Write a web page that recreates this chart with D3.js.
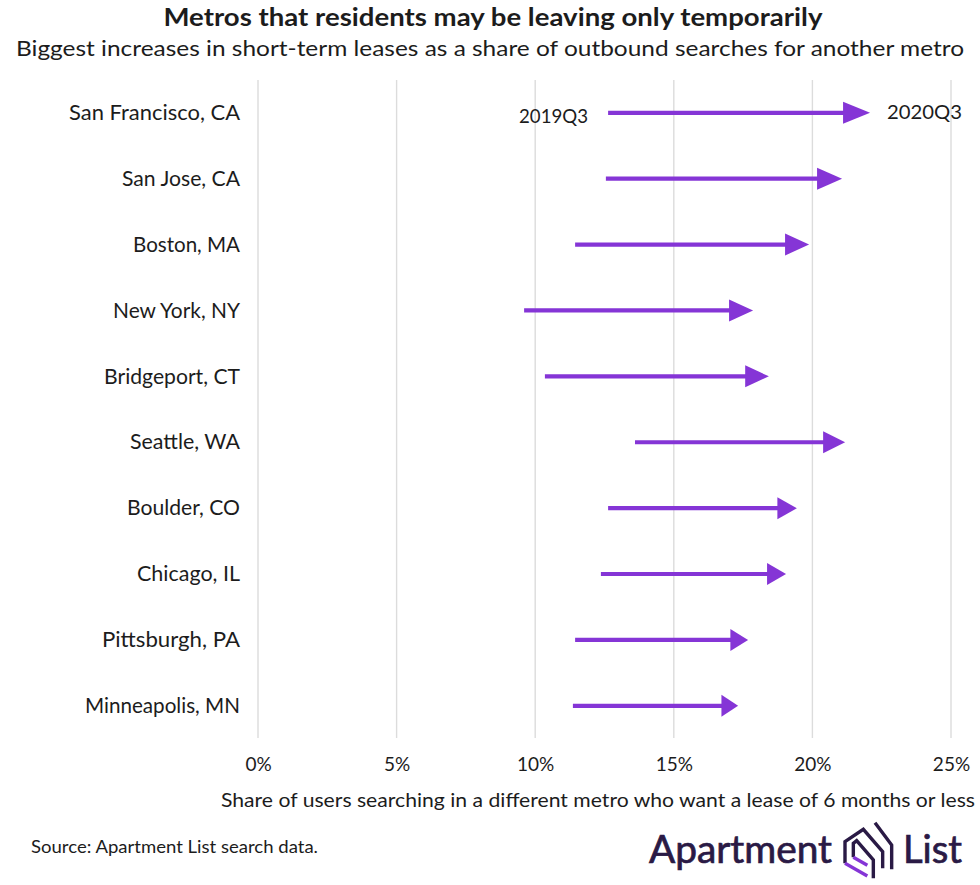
<!DOCTYPE html>
<html><head><meta charset="utf-8">
<script src="https://cdn.jsdelivr.net/npm/d3@7"></script>
<style>html,body{margin:0;padding:0;background:#fff}svg{display:block}text{font-family:Lato,sans-serif;fill:#1c1c1c}</style>
</head><body><svg id="c" width="980" height="885"></svg>
<script>
const metros=["San Francisco, CA","San Jose, CA","Boston, MA","New York, NY","Bridgeport, CT","Seattle, WA","Boulder, CO","Chicago, IL","Pittsburgh, PA","Minneapolis, MN"];
const share2019=[12.63,12.55,11.44,9.6,10.35,13.6,12.63,12.37,11.44,11.36];
const share2020=[22.08,21.07,19.88,17.86,18.43,21.18,19.44,19.05,17.68,17.32];
const xTicks=[0,5,10,15,20,25];
const headLengths=[27,25,24,24,23.7,22,19.5,19,17.7,16.7];
const labelWidths=[171,118,107,127,136,110,113,103,138,155];
const svg=d3.select("#c");
const x=d3.scaleLinear().domain([0,25]).range([258,951]);
const y=d3.scalePoint().domain(metros).range([112.8,705.8]);
const purple="#8535d6";
function fit(sel,len){sel.attr("textLength",len).attr("lengthAdjust","spacingAndGlyphs");return sel;}

fit(svg.append("text").attr("x",493).attr("y",26).attr("text-anchor","middle").attr("font-size",24).attr("font-weight",700).text("Metros that residents may be leaving only temporarily"),659);
fit(svg.append("text").attr("x",16).attr("y",56).attr("font-size",22).text("Biggest increases in short-term leases as a share of outbound searches for another metro"),948);

svg.append("g").selectAll("line").data(xTicks).join("line")
 .attr("x1",d=>x(d)).attr("x2",d=>x(d)).attr("y1",80).attr("y2",738)
 .attr("stroke","#dcdcdc").attr("stroke-width",1.4);

const xAxis=svg.append("g").attr("transform","translate(0,738)")
 .call(d3.axisBottom(x).tickValues(xTicks).tickFormat(d=>d+"%").tickSize(0).tickPadding(20));
xAxis.select(".domain").remove();
xAxis.selectAll("text").attr("font-size",19).style("font-family","Lato,sans-serif").style("fill","#1c1c1c");

const yAxis=svg.append("g").attr("transform","translate(240,0)")
 .call(d3.axisLeft(y).tickSize(0).tickPadding(0));
yAxis.select(".domain").remove();
yAxis.selectAll("text").attr("font-size",21).style("font-family","Lato,sans-serif").style("fill","#1c1c1c")
 .attr("textLength",(d,i)=>labelWidths[i]).attr("lengthAdjust","spacingAndGlyphs");

const rows=svg.append("g").selectAll("g").data(metros).join("g");
const half=11;
rows.append("line")
 .attr("x1",(d,i)=>x(share2019[i])).attr("x2",(d,i)=>x(share2020[i])-headLengths[i]+2)
 .attr("y1",d=>y(d)).attr("y2",d=>y(d)).attr("stroke",purple).attr("stroke-width",4.2);
rows.append("path").attr("fill",purple)
 .attr("d",(d,i)=>{const t=x(share2020[i]),c=y(d),h=headLengths[i];return d3.line()([[t,c],[t-h,c-half],[t-h,c+half]])+"Z";});

fit(svg.append("text").attr("x",519).attr("y",123).attr("font-size",20).text("2019Q3"),69);
fit(svg.append("text").attr("x",887).attr("y",119).attr("font-size",20).text("2020Q3"),75);

fit(svg.append("text").attr("x",221).attr("y",807).attr("font-size",19).text("Share of users searching in a different metro who want a lease of 6 months or less"),754);
fit(svg.append("text").attr("x",31).attr("y",853).attr("font-size",17).text("Source: Apartment List search data."),287);

// logo
const dark="#2a1a45";
fit(svg.append("text").attr("x",649).attr("y",863).attr("font-size",38).style("fill",dark).style("stroke",dark).style("stroke-width",0.7).text("Apartment"),183);
fit(svg.append("text").attr("x",903).attr("y",863).attr("font-size",38).style("fill",dark).style("stroke",dark).style("stroke-width",0.7).text("List"),59);
const Z=(a)=>d3.line()(a.map(([p,q])=>[600+p/3,800+q/3]));
const logoDark=[[[760,172],[760,130],[770,122],[820,180],[820,235]],[[735,190],[735,125],[790,88],[848,155],[848,205]],[[825,68],[875,135],[875,208]]];
const logoPurple=[[[735,190],[802,228]],[[760,172],[802,196]]];
svg.append("g").selectAll("path").data(logoDark).join("path").attr("d",Z).attr("fill","none").attr("stroke",dark).attr("stroke-width",3.4);
svg.append("g").selectAll("path").data(logoPurple).join("path").attr("d",Z).attr("fill","none").attr("stroke",purple).attr("stroke-width",3.4);
</script></body></html>
